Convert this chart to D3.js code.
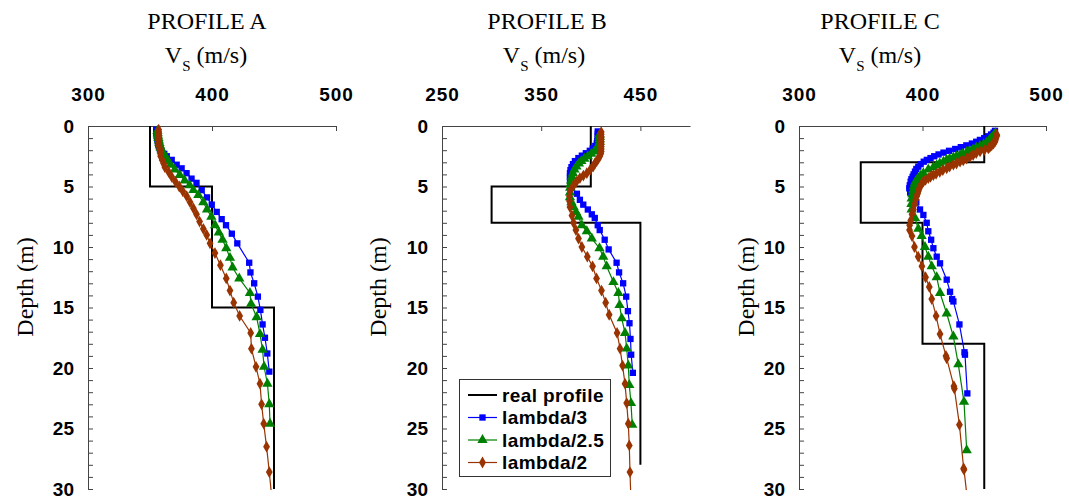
<!DOCTYPE html>
<html><head><meta charset="utf-8">
<script src="https://cdn.jsdelivr.net/npm/d3@7"></script>
<style>body{margin:0;background:#fff}</style>
</head><body><svg id="c" width="1069" height="501"></svg>
<script>
// ---------------- DATA ----------------
const panelTitles = ["PROFILE A", "PROFILE B", "PROFILE C"];
const xDomains = [[300, 500], [250, 500], [300, 500]];
const xTickValues = [[300, 400, 500], [250, 350, 450], [300, 400, 500]];
const depthDomain = [0, 30];
const depthLabels = [0, 5, 10, 15, 20, 25, 30];
const seriesNames = ["real profile", "lambda/3", "lambda/2.5", "lambda/2"];

// real profiles: [depth, Vs]
const realA = [[0,350],[5,350],[5,400],[15,400],[15,450],[30,450]];
const realB = [[0,400],[5,400],[5,300],[8,300],[8,450],[28,450]];
const realC = [[0,450],[3,450],[3,350],[8,350],[8,400],[18,400],[18,450],[30,450]];

// PROFILE A
const aL3Depth = [0.3,0.5,0.7,0.9,1.1,1.3,1.5,1.7,1.9,2.1,2.3,2.5,2.8,3.2,3.5,3.9,4.35,4.7,5.3,5.9,6.5,7.1,7.7,8.2,8.9,9.7,11.3,12.1,13.0,14.1,15.2,16.4,17.5,18.8,20.3];
const aL3Vs    = [355,355,355.3,355.6,356,356.3,356.7,357.2,358,359.5,361.5,363.5,367.5,371.5,375.5,379.5,383.5,387.5,391.7,396,399.8,403.8,407.8,411.3,416,420.4,430,431,434,437,439,440.8,442.7,444.6,446.2];
const aL25Depth = [0.4,0.6,0.8,1.0,1.2,1.4,1.6,1.8,2.0,2.3,2.6,2.9,3.2,3.6,4.05,4.5,4.9,5.3,5.7,6.3,6.9,7.5,8.2,8.8,9.4,10.1,10.9,11.7,12.6,13.8,14.7,15.8,17.2,18.5,19.9,21.3,23.0,24.6];
const aL25Vs    = [356,356.2,356.5,356.8,357.2,357.6,358,358.6,359.4,361,363,364.5,366.5,370,374,378,382,385,389,393,396,399.5,402.5,405.5,408.5,411.5,414.5,416.6,422,430.6,431.5,436,438.7,440.8,442,444.7,446.2,446.8];
const aL2Depth = [0.3,0.5,0.7,0.9,1.1,1.3,1.5,1.7,1.9,2.1,2.3,2.5,2.8,3.1,3.4,3.8,4.2,4.6,5.0,5.4,5.8,6.3,6.8,7.3,7.9,8.5,9.0,9.7,10.5,11.5,12.6,13.6,14.6,15.7,17.1,18.4,19.9,21.3,23.0,24.6,26.5,28.6,31];
const aL2Vs    = [357,357,356.8,356.7,356.7,357,357.2,357.5,357.8,358.2,358.4,358.6,359.8,361,362,365,367.5,370.5,373.6,376.5,379.6,382.3,385,387.5,390,393,395.7,398.4,402.4,406.8,411.5,414.5,417.5,422.3,431.2,431.8,435.5,438.7,440,441.7,444,446.2,448.5];

// PROFILE B
const bL3Depth = [0.45,0.65,0.85,1.05,1.25,1.45,1.65,1.85,2.05,2.25,2.45,2.65,2.9,3.15,3.4,3.65,3.9,4.2,4.5,4.8,5.1,5.6,6.1,6.5,6.9,7.3,7.6,8.2,8.6,9.4,10.2,11.3,12.1,13.0,14.1,15.3,16.3,17.6,18.9,20.4];
const bL3Vs    = [407,407,407,407,406.5,406,404.5,402,399,395,391,387.5,384,382,380.5,379.5,379,379,379,379.5,381,386,389,392.4,397,401,404,407,409,414,418,426,428.5,432.6,435.7,437.4,439,440,440.7,442.4];
const bL25Depth = [0.7,0.9,1.1,1.3,1.5,1.7,1.9,2.1,2.3,2.5,2.7,2.9,3.1,3.35,3.6,3.9,4.2,4.5,4.8,5.1,5.5,5.9,6.3,6.7,7.1,7.5,8.2,8.7,9.3,10.1,10.8,11.6,12.9,13.8,14.8,15.9,17.1,18.4,19.8,21.4,22.9,24.7];
const bL25Vs    = [409,409,409,409,408.5,407.5,406,403.5,400.5,397,393.5,390.5,388,385.5,383.5,382,381,380.2,379.6,379.2,379,379,380.5,382.6,385,387.6,391,396,401,408.8,412.5,416,422.8,427.8,429,431.2,434.5,436.2,437.8,438.8,440.5,441.8];
const bL2Depth = [0.5,0.7,0.9,1.1,1.3,1.5,1.7,1.9,2.1,2.3,2.5,2.7,2.9,3.1,3.35,3.6,3.9,4.1,4.3,4.6,4.9,5.3,5.8,6.2,6.7,7.4,8.0,8.6,9.3,10.0,10.8,11.6,12.6,13.6,14.6,15.6,17.1,18.4,19.8,21.3,22.9,24.6,26.4,28.6,31];
const bL2Vs    = [410.5,410.5,410.5,410.5,410.5,410.5,410.5,410.5,410.5,410,409,407.5,406,404,402.4,399.5,396,392.5,389,385.5,382.6,379.5,378.5,378.5,379,381,382.6,385,387.6,391,396.5,401.8,405.8,410.8,415,418.5,426.5,429.5,432,434.5,436.2,437.8,438.8,439.5,440.5];

// PROFILE C
const cL3Depth = [0.4,0.55,0.7,0.85,1.0,1.15,1.3,1.45,1.6,1.75,1.9,2.05,2.2,2.35,2.5,2.65,2.8,2.95,3.15,3.36,3.55,3.77,4.0,4.2,4.4,4.6,4.9,5.15,5.5,5.8,6.3,6.9,7.35,8.0,8.7,9.4,10.1,10.8,11.35,12.7,13.7,14.3,14.5,16.4,18.7,18.9,22.1];
const cL3Vs    = [458.7,457.5,455.5,453,450,446.5,443.5,440,435.5,431,426.5,421.5,417,413,409.5,406.5,403.5,401,398.5,396.6,395,393.9,392.8,392,391,390.4,389.7,389.3,390,391.5,395,398,400.7,403.4,404.7,407,408.8,411.5,414.2,419.6,422.3,424,425,429.9,434,434.4,436.3];
const cL25Depth = [0.6,0.75,0.9,1.05,1.2,1.35,1.5,1.65,1.8,1.93,2.05,2.15,2.3,2.4,2.5,2.6,2.7,2.8,2.95,3.1,3.25,3.4,3.6,3.9,4.1,4.3,4.5,4.7,5.0,5.3,5.65,6.0,6.45,6.9,7.6,8.5,9.1,10.0,10.8,11.6,12.5,13.8,15.5,17.4,19.7,22.8,26.8];
const cL25Vs    = [459,458,456.5,455,454,452,449.5,446.6,443.5,441,438,435.8,432.5,430.4,427.5,425,422,419.6,417,414,411.5,408.8,404.7,400.7,398.5,396.6,395,393.9,393,392.6,391.8,391.2,391,391.2,393.9,396.6,399.3,402,404.7,407.5,411.5,414.2,419.6,425,429,433.6,435.8];
const cL2Depth = [0.7,0.85,1.0,1.15,1.3,1.45,1.6,1.75,1.85,2.0,2.1,2.25,2.4,2.55,2.7,2.85,2.95,3.1,3.2,3.35,3.5,3.65,3.8,3.95,4.05,4.2,4.3,4.45,4.6,4.8,5.0,5.2,5.4,5.6,5.8,6.1,6.4,6.9,7.3,7.8,8.2,8.6,9.1,10.0,10.8,11.6,12.5,13.3,14.3,15.7,17.2,19.0,19.2,21.5,21.7,24.7,28.3,28.4,31];
const cL2Vs    = [460,460,459.5,459,458.7,457.5,456,454.5,453.3,450,446.6,443.5,441,438.5,435.8,433,430.4,427.5,425,422,419.6,416.5,414,411,408.8,406.5,404.7,402.5,400.7,399.2,398,397.2,396.6,396,395.3,394.5,393.9,392.6,391.5,390.5,389.6,389.5,391.5,393.5,396.5,399.5,402.5,405.5,407.5,411,414.2,419,419.6,425.4,425.8,429.9,433.3,433.6,436.5];

// ---------------- LAYOUT ----------------
const svg = d3.select("#c");
const plotTop = 126, plotBottom = 489;
const panels = [
  {x0: 88,  x1: 336,  titleX: 207, vsX: 206, depthX: 25,  real: realA,
   series: [[aL3Depth,aL3Vs],[aL25Depth,aL25Vs],[aL2Depth,aL2Vs]]},
  {x0: 442, x1: 690,  titleX: 547, vsX: 544, depthX: 378, real: realB,
   series: [[bL3Depth,bL3Vs],[bL25Depth,bL25Vs],[bL2Depth,bL2Vs]]},
  {x0: 799, x1: 1046, titleX: 880, vsX: 880, depthX: 746, real: realC,
   series: [[cL3Depth,cL3Vs],[cL25Depth,cL25Vs],[cL2Depth,cL2Vs]]}
];
const colors = ["#0000ff", "#008000", "#993300"];
const symbols = [d3.symbolSquare, d3.symbolTriangle, d3.symbolDiamond];
const symSizes = [40, 46, 40];
const serif = "'Liberation Serif','Times New Roman',serif";
const sans = "'Liberation Sans',Arial,sans-serif";

const y = d3.scaleLinear().domain(depthDomain).range([plotTop, plotBottom]);

panels.forEach((p, i) => {
  const x = d3.scaleLinear().domain(xDomains[i]).range([p.x0, p.x1]);
  const g = svg.append("g");

  // titles
  g.append("text").attr("x", p.titleX).attr("y", 29).attr("text-anchor", "middle")
    .attr("font-family", serif).attr("font-size", 24).text(panelTitles[i]);
  const vs = g.append("text").attr("x", p.vsX).attr("y", 63).attr("text-anchor", "middle")
    .attr("font-family", serif).attr("font-size", 24);
  vs.append("tspan").text("V");
  vs.append("tspan").attr("font-size", 15).attr("dy", 8).text("S");
  vs.append("tspan").attr("dy", -8).text(" (m/s)");
  g.append("text").attr("transform", `translate(${p.depthX + 8},287) rotate(-90)`)
    .attr("text-anchor", "middle").attr("font-family", serif).attr("font-size", 24)
    .text("Depth (m)");

  // top axis
  const ax = d3.axisTop(x).tickValues(xTickValues[i]).tickSizeInner(-5).tickSizeOuter(0).tickPadding(25);
  const gx = g.append("g").attr("transform", `translate(0,${plotTop})`).call(ax);
  gx.select(".domain").attr("stroke", "#444");
  gx.selectAll(".tick line").attr("stroke", "#444");
  gx.selectAll("text").attr("font-family", sans).attr("font-size", 19).attr("font-weight", "bold")
    .attr("fill", "#000").attr("letter-spacing", 1);

  // left axis
  const ay = d3.axisLeft(y).tickValues(d3.range(0, 31, 1))
    .tickFormat(d => depthLabels.includes(d) ? d : "")
    .tickSizeInner(-5).tickSizeOuter(0).tickPadding(14);
  const gy = g.append("g").attr("transform", `translate(${p.x0},0)`).call(ay);
  gy.select(".domain").attr("stroke", "#444");
  gy.selectAll(".tick line").attr("stroke", "#444");
  gy.selectAll("text").attr("font-family", sans).attr("font-size", 19).attr("font-weight", "bold")
    .attr("fill", "#000");

  // clip
  const cid = "clip" + i;
  svg.append("clipPath").attr("id", cid).append("rect")
    .attr("x", p.x0 - 10).attr("y", 0).attr("width", p.x1 - p.x0 + 20).attr("height", plotBottom + 1);
  const plot = g.append("g").attr("clip-path", `url(#${cid})`);

  // real profile
  plot.append("path").datum(p.real)
    .attr("d", d3.line().x(d => x(d[1])).y(d => y(d[0])))
    .attr("fill", "none").attr("stroke", "#000").attr("stroke-width", 2);

  // series
  p.series.forEach((s, k) => {
    const pts = s[0].map((d, j) => [d, s[1][j]]);
    plot.append("path").datum(pts)
      .attr("d", d3.line().x(d => x(d[1])).y(d => y(d[0])))
      .attr("fill", "none").attr("stroke", colors[k]).attr("stroke-width", 1.2);
    plot.selectAll(null).data(pts).enter().append("path")
      .attr("transform", d => `translate(${x(d[1])},${y(d[0])})`)
      .attr("d", d3.symbol().type(symbols[k]).size(symSizes[k]))
      .attr("fill", colors[k]);
  });
});

// legend (in panel B)
const lg = svg.append("g");
lg.append("rect").attr("x", 459.5).attr("y", 379.5).attr("width", 151).attr("height", 97)
  .attr("fill", "#fff").attr("stroke", "#333").attr("stroke-width", 1);
const rowY = [395, 417.5, 440, 462.5];
seriesNames.forEach((name, r) => {
  const cy = rowY[r];
  const col = r === 0 ? "#000" : colors[r - 1];
  lg.append("line").attr("x1", 468).attr("x2", 497).attr("y1", cy).attr("y2", cy)
    .attr("stroke", col).attr("stroke-width", r === 0 ? 2 : 1.2);
  if (r > 0) {
    lg.append("path").attr("transform", `translate(482.5,${cy})`)
      .attr("d", d3.symbol().type(symbols[r - 1]).size(symSizes[r - 1])).attr("fill", col);
  }
  lg.append("text").attr("x", 502).attr("y", cy).attr("dy", "0.35em")
    .attr("font-family", sans).attr("font-size", 19).attr("font-weight", "bold")
    .attr("letter-spacing", 0.4).text(name);
});
</script>
</body></html>
